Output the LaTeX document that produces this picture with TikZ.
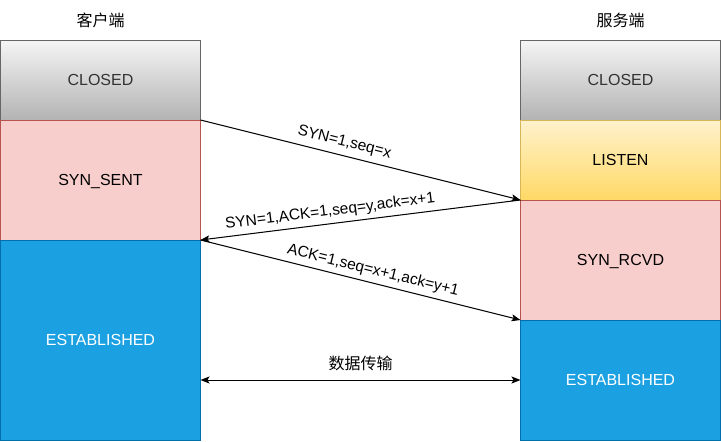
\documentclass[tikz,border=0pt]{standalone}
\usepackage{fontspec}
\setmainfont{Liberation Sans}
\newfontfamily\cjk{Noto Sans CJK SC}
\usepackage{tikz}
\usetikzlibrary{arrows.meta}
\usetikzlibrary{positioning}
\definecolor{closedtop}{HTML}{F5F5F5}
\definecolor{closedbot}{HTML}{B3B3B3}
\definecolor{closedline}{HTML}{666666}
\definecolor{closedtext}{HTML}{333333}
\definecolor{listentop}{HTML}{FFF2CC}
\definecolor{listenbot}{HTML}{FFD966}
\definecolor{listenline}{HTML}{D6B656}
\definecolor{synfill}{HTML}{F8CECC}
\definecolor{synline}{HTML}{B85450}
\definecolor{estfill}{HTML}{1BA1E2}
\definecolor{estline}{HTML}{006EAF}
\tikzset{
    phase/.style={
           rectangle,
           line width=1pt,
           minimum width=200pt,
           inner sep=0pt,
           outer sep=0pt,
           text centered,
           text height=13pt,
           text depth=1.5pt,
           font=\fontsize{16}{18}\selectfont,
           },
    closed/.style={phase, draw=closedline, top color=closedtop,
           bottom color=closedbot, text=closedtext, minimum height=80pt},
    listen/.style={phase, draw=listenline, top color=listentop,
           bottom color=listenbot, minimum height=80pt},
    syn/.style={phase, draw=synline, fill=synfill, minimum height=120pt},
    est/.style={phase, draw=estline, fill=estfill, text=white},
    msg/.style={font=\fontsize{15.5}{18}\selectfont, sloped, above=2pt},
}

\begin{document}
\begin{tikzpicture}[x=1pt,y=-1pt,->,>={Stealth[length=9pt,width=7pt,inset=2pt]},line width=1pt]
 \useasboundingbox (0,0) rectangle (721,442);

 % client side: states stacked from top to bottom
 \node[font=\cjk\fontsize{16}{18}\selectfont] (CLIENT) at (100.5,20) {客户端};
 \node[closed] (CCLOSED) at (100.5,80) {CLOSED};
 \node[syn,
  below=0pt of CCLOSED] (SYNSENT) {SYN\_SENT};
 \node[est,
  minimum height=200pt,
  below=0pt of SYNSENT] (CEST) {ESTABLISHED};

 % server side
 \node[font=\cjk\fontsize{16}{18}\selectfont] (SERVER) at (620.5,20) {服务端};
 \node[closed] (SCLOSED) at (620.5,80) {CLOSED};
 \node[listen,
  below=0pt of SCLOSED] (LISTEN) {LISTEN};
 \node[syn,
  below=0pt of LISTEN] (SYNRCVD) {SYN\_RCVD};
 \node[est,
  minimum height=120pt,
  below=0pt of SYNRCVD] (SEST) {ESTABLISHED};

 % three way handshake
 \path (SYNSENT.north east) edge node[msg, pos=0.44]{SYN=1,seq=x} (LISTEN.south west)
 (LISTEN.south west)        edge node[msg, pos=0.59, above=1pt]{SYN=1,ACK=1,seq=y,ack=x+1} (SYNSENT.south east)
 (SYNSENT.south east)       edge node[msg, pos=0.53, above=1pt]{ACK=1,seq=x+1,ack=y+1} (SYNRCVD.south west);

 % data transfer
 \draw[<->] (CEST.east |- SEST.west) -- node[above=5pt, font=\cjk\fontsize{16}{18}\selectfont]{数据传输} (SEST.west);

\end{tikzpicture}
\end{document}
